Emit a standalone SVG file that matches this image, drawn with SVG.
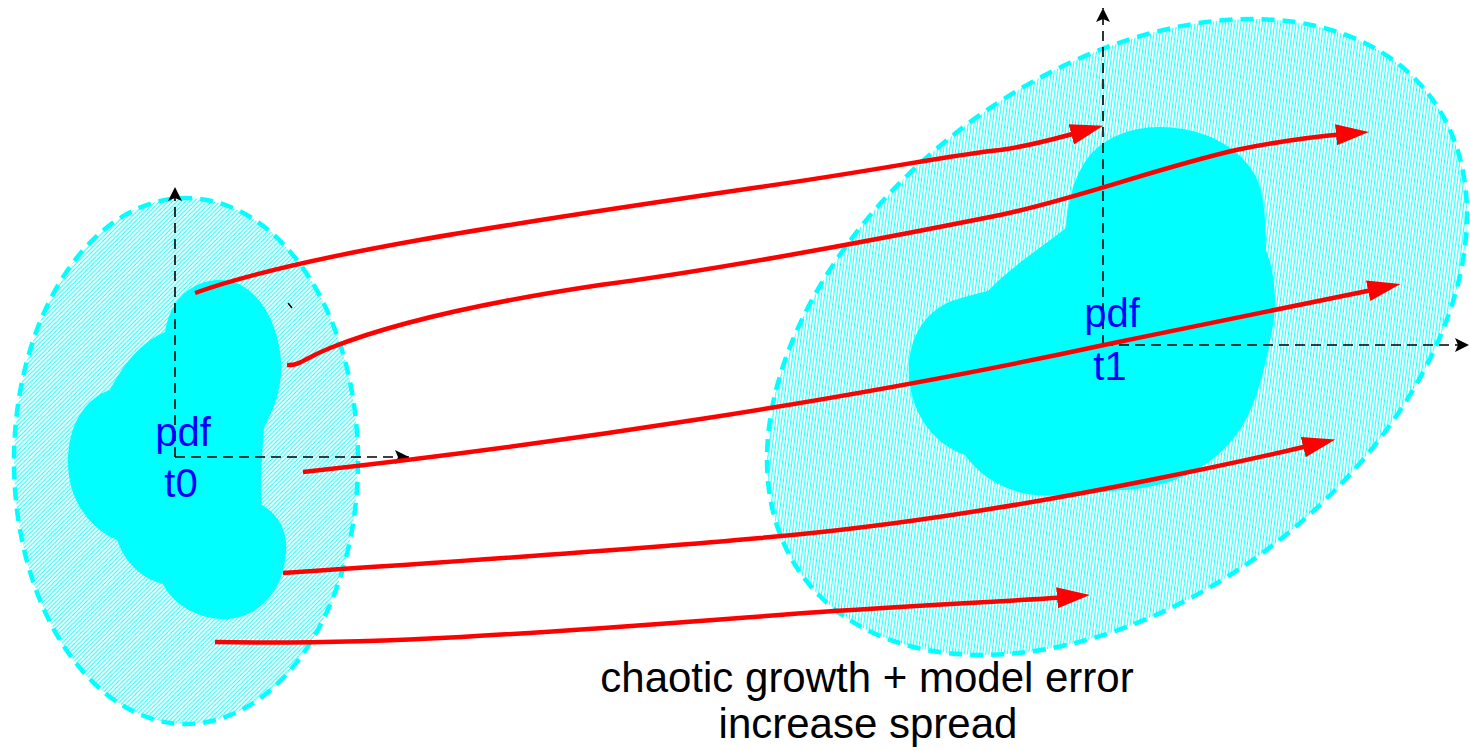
<svg xmlns="http://www.w3.org/2000/svg" width="1470" height="750" viewBox="0 0 1470 750">
<style>
.spread{fill:url(#hatch);stroke:#00FFFF;stroke-width:4.5;stroke-dasharray:13 8}
.core{fill:#00FFFF;stroke:none}
.axis{fill:none;stroke:#000;stroke-width:1.6;stroke-dasharray:10 6;marker-end:url(#axhead)}
.lbl{font-family:"Liberation Sans",Arial,sans-serif;font-size:40px;fill:#0000FF;text-anchor:middle}
.cap{font-family:"Liberation Sans",Arial,sans-serif;font-size:42px;fill:#000;text-anchor:middle}
.traj{fill:none;stroke:#FF0000;stroke-width:4.5;marker-end:url(#redhead)}
</style>
<defs>
<pattern id="hatch" patternUnits="userSpaceOnUse" width="4.3" height="4.3">
<path d="M-1,1 L1,-1 M0,4.3 L4.3,0 M3.3,5.3 L5.3,3.3" stroke="#00FFFF" stroke-width="1"/>
</pattern>
<marker id="axhead" markerUnits="userSpaceOnUse" markerWidth="14" markerHeight="14" refX="14" refY="7" orient="auto">
<path d="M0,0 L14,7 L0,14 L3,7 Z" fill="#000"/>
</marker>
<marker id="redhead" markerUnits="userSpaceOnUse" markerWidth="34" markerHeight="22" refX="9" refY="10.5" orient="auto">
<path d="M0,0 L33,10.5 L0,21 Z" fill="#FF0000"/>
</marker>
</defs>
<rect width="1470" height="750" fill="#fff"/>

<g id="pdf-t0">
<ellipse class="spread" cx="186" cy="461" rx="172" ry="263"/>
<path class="core" d="M217,280 C255,278 278,320 281,360 C283,390 272,412 264,428 C262,455 260,480 262,505 C280,515 290,535 285,560 C280,600 250,620 222,619 C195,618 172,603 163,584 C140,578 125,562 117,540 C88,528 68,498 68,462 C68,425 85,398 110,390 C125,360 145,340 165,332 C170,300 190,282 217,280 Z"/>
<path class="axis" d="M175,457 L175,187"/>
<path class="axis" d="M175,457 L409,457"/>
<text class="lbl" x="183" y="446">pdf</text>
<text class="lbl" x="181" y="497">t0</text>
<path d="M288,303 L292,308" stroke="#000" stroke-width="1.5"/>
</g>

<g id="pdf-t1">
<ellipse class="spread" cx="1117" cy="337" rx="395" ry="260" transform="rotate(-38 1117 337)"/>
<path class="core" d="M1159,127 C1205,127 1240,148 1255,175 C1265,195 1266,225 1266,250 C1276,275 1278,310 1270,340 C1262,385 1250,420 1232,440 C1210,468 1170,488 1122,490 C1085,494 1055,497 1035,495 C1005,492 980,476 965,455 C935,445 912,415 909,378 C906,340 925,308 958,299 C968,296 978,293 988,291 C1010,268 1040,248 1066,228 C1068,200 1074,175 1090,155 C1105,138 1130,127 1159,127 Z"/>
<path class="axis" d="M1103,345 L1103,8"/>
<path class="axis" d="M1103,345 L1469,345"/>
<text class="lbl" x="1112" y="327">pdf</text>
<text class="lbl" x="1110" y="380">t1</text>
</g>

<g id="connectors">
<path class="traj" d="M195,293 C300,255 500,225 760,187 C880,170 950,155 1000,150 C1030,146 1050,140 1080,132"/>
<path class="traj" d="M287,365 C300,366 305,358 330,348 C400,320 500,300 600,285 C700,272 850,245 1000,215 C1080,198 1150,170 1236,150 C1280,141 1310,137 1345,134"/>
<path class="traj" d="M303,472 C550,445 850,400 1104,345 C1200,325 1300,305 1377,289"/>
<path class="traj" d="M283,573 C450,562 650,548 760,538 C900,526 1050,500 1150,480 C1220,466 1270,455 1312,445"/>
<path class="traj" d="M215,642 C400,646 600,628 820,612 C950,603 1020,601 1066,597"/>
</g>

<g id="caption">
<text class="cap" x="867" y="692">chaotic growth + model error</text>
<text class="cap" x="868" y="738">increase spread</text>
</g>
</svg>
